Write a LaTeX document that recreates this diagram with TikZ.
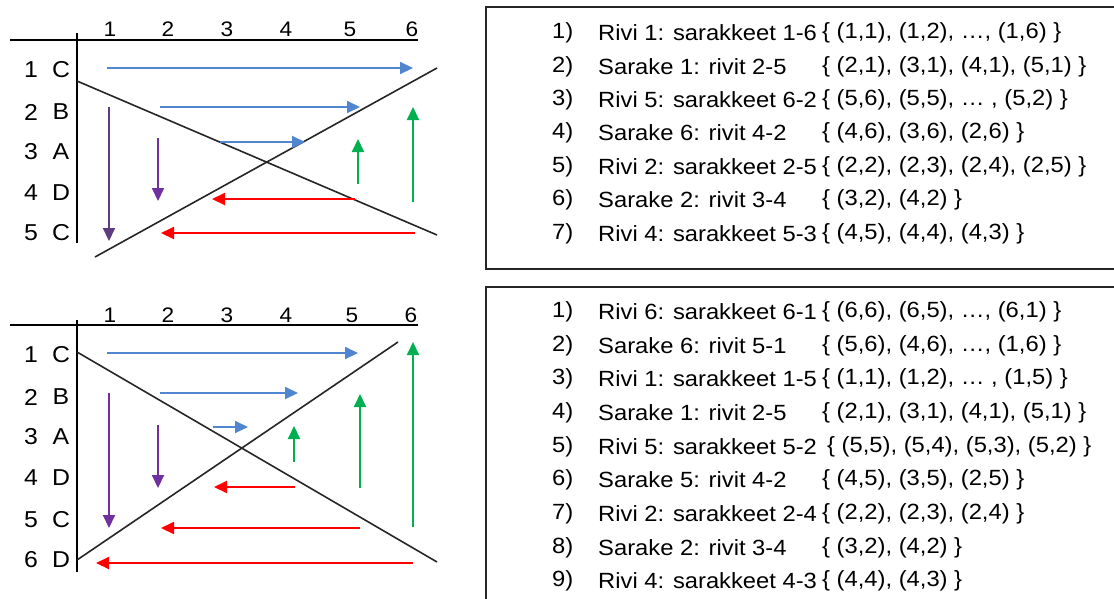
\documentclass[tikz,border=0pt]{standalone}
\usepackage{fontspec}
\setmainfont{Liberation Sans}[FakeStretch=1.08]
\usetikzlibrary{arrows.meta}
\definecolor{cblue}{HTML}{4F86CF}
\definecolor{cpurple}{HTML}{7030A0}
\definecolor{cdpurple}{HTML}{5E3C80}
\definecolor{cgreen}{HTML}{00B050}
\definecolor{cred}{HTML}{FF0000}
\definecolor{cline}{HTML}{262626}
\tikzset{
  axis/.style={line width=2pt, draw=black},
  diag/.style={line width=1.6pt, draw=cline},
  arr/.style={line width=2pt, -{Triangle[length=13pt,width=12pt]}},
  colnum/.style={font=\fontsize{21}{24}\selectfont, anchor=base},
  rowlab/.style={font=\fontsize{23}{26}\selectfont},
  boxfr/.style={line width=2pt, draw=cline},
  itemnum/.style={font=\fontsize{22}{25}\selectfont, anchor=west, inner sep=0pt},
  itemtxt/.style={font=\fontsize{22}{25}\selectfont, anchor=west, inner sep=0pt},
}
\begin{document}
\begin{tikzpicture}[x=1pt,y=-1pt]
\clip (0,0) rectangle (1114,598);
\fill[white] (0,0) rectangle (1114,598);

% ===== top grid =====
\draw[axis] (10,40) -- (418,40);
\draw[axis] (77,33) -- (77,243);
\foreach \c/\x in {1/110,2/168,3/227,4/286,5/350,6/412}
  \node[colnum] (tc\c) at (\x,36) {\c};
\foreach \r/\l/\y in {1/C/70,2/B/112,3/A/152,4/D/193,5/C/233}{
  \node[rowlab] (tr\r) at (31,\y) {\r};
  \node[rowlab] (tl\r) at (61,\y) {\l};
}
\draw[diag] (77,81) -- (437,235);
\draw[diag] (95,257) -- (437,68);
\draw[arr,cblue] (107,68) -- (413,68);
\draw[arr,cblue] (160,107) -- (360,107);
\draw[arr,cblue] (220,142) -- (305,142);
\draw[arr,cdpurple] (109,107) -- (109,241);
\draw[arr,cpurple] (158,138) -- (158,201);
\draw[arr,cgreen] (358,184) -- (358,139);
\draw[arr,cgreen] (413,202) -- (413,107);
\draw[arr,cred] (355,199) -- (212,199);
\draw[arr,cred] (415,233) -- (161,233);

% ===== bottom grid =====
\draw[axis] (10,325) -- (418,325);
\draw[axis] (77,320) -- (77,572);
\foreach \c/\x in {1/110,2/168,3/227,4/286,5/352,6/411}
  \node[colnum] (bc\c) at (\x,322) {\c};
\foreach \r/\l/\y in {1/C/355,2/B/397,3/A/437,4/D/478,5/C/520,6/D/560}{
  \node[rowlab] (br\r) at (31,\y) {\r};
  \node[rowlab] (bl\r) at (61,\y) {\l};
}
\draw[diag] (77,352) -- (437,562);
\draw[diag] (77,560) -- (398,342);
\draw[arr,cblue] (107,353) -- (358,353);
\draw[arr,cblue] (160,393) -- (298,393);
\draw[arr,cblue] (213,427) -- (248,427);
\draw[arr,cpurple] (109,393) -- (109,528);
\draw[arr,cpurple] (158,425) -- (158,488);
\draw[arr,cgreen] (294,462) -- (294,426);
\draw[arr,cgreen] (360,488) -- (360,394);
\draw[arr,cgreen] (413,527) -- (413,342);
\draw[arr,cred] (295,487) -- (214,487);
\draw[arr,cred] (360,528) -- (161,528);
\draw[arr,cred] (413,563) -- (96,563);

% ===== top box =====
\draw[boxfr] (486,7) rectangle (1130,269);
\foreach \n/\t/\s/\y in {
  1/{Rivi 1: sarakkeet 1-6}/{\{ (1,1), (1,2), \dots, (1,6) \}}/33,
  2/{Sarake 1: rivit 2-5}/{\{ (2,1), (3,1), (4,1), (5,1) \}}/67,
  3/{Rivi 5: sarakkeet 6-2}/{\{ (5,6), (5,5), \dots\ , (5,2) \}}/100,
  4/{Sarake 6: rivit 4-2}/{\{ (4,6), (3,6), (2,6) \}}/133,
  5/{Rivi 2: sarakkeet 2-5}/{\{ (2,2), (2,3), (2,4), (2,5) \}}/167,
  6/{Sarake 2: rivit 3-4}/{\{ (3,2), (4,2) \}}/200,
  7/{Rivi 4: sarakkeet 5-3}/{\{ (4,5), (4,4), (4,3) \}}/234}{
  \node[itemnum] (tn\n) at (552,\y) {\n)};
  \node[itemtxt] (tt\n) at (598,\y) {\t};
  \node[itemtxt] (ts\n) at (822,\y) {\s};
}

% ===== bottom box =====
\draw[boxfr] (486,287) rectangle (1130,620);
\foreach \n/\t/\s/\x/\y in {
  1/{Rivi 6: sarakkeet 6-1}/{\{ (6,6), (6,5), \dots, (6,1) \}}/822/312,
  2/{Sarake 6: rivit 5-1}/{\{ (5,6), (4,6), \dots, (1,6) \}}/822/346,
  3/{Rivi 1: sarakkeet 1-5}/{\{ (1,1), (1,2), \dots\ , (1,5) \}}/822/379,
  4/{Sarake 1: rivit 2-5}/{\{ (2,1), (3,1), (4,1), (5,1) \}}/822/413,
  5/{Rivi 5: sarakkeet 5-2}/{\{ (5,5), (5,4), (5,3), (5,2) \}}/827/447,
  6/{Sarake 5: rivit 4-2}/{\{ (4,5), (3,5), (2,5) \}}/822/480,
  7/{Rivi 2: sarakkeet 2-4}/{\{ (2,2), (2,3), (2,4) \}}/822/514,
  8/{Sarake 2: rivit 3-4}/{\{ (3,2), (4,2) \}}/822/548,
  9/{Rivi 4: sarakkeet 4-3}/{\{ (4,4), (4,3) \}}/822/581}{
  \node[itemnum] (bn\n) at (552,\y) {\n)};
  \node[itemtxt] (bt\n) at (598,\y) {\t};
  \node[itemtxt] (bs\n) at (\x,\y) {\s};
}
\end{tikzpicture}
\end{document}
